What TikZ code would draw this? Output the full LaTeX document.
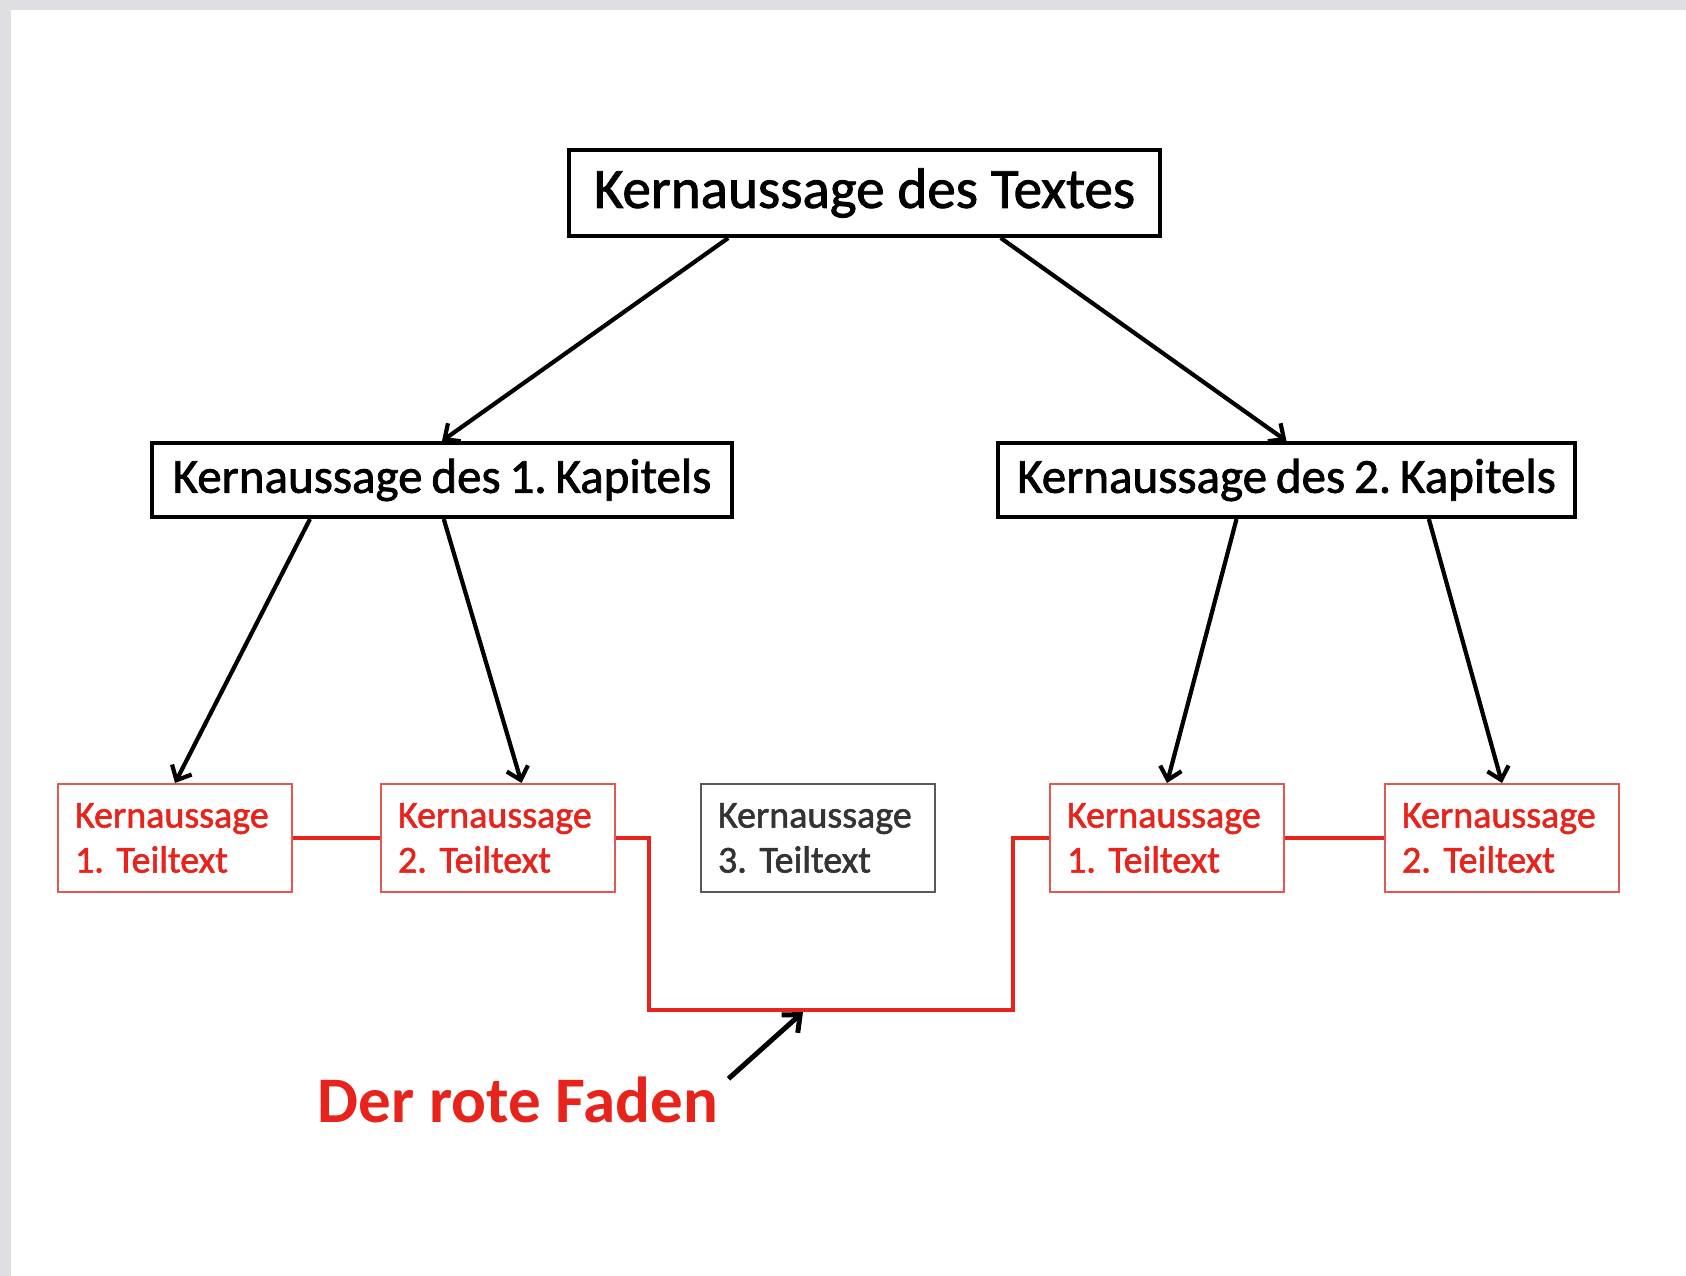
\documentclass[tikz,border=0pt]{standalone}
\usepackage{fontspec}
\setmainfont{Carlito}
\newfontfamily\medfont[FakeBold=1.5]{Carlito}
\usetikzlibrary{arrows.meta,calc}
\definecolor{framegray}{RGB}{223,223,227}
\definecolor{tred}{RGB}{232,35,28}
\definecolor{bred}{RGB}{226,88,84}
\frenchspacing
\newcommand\tightspA{\spaceskip=0.1em\relax}
\newcommand\tightspB{\spaceskip=0.18em\relax}
\begin{document}
\begin{tikzpicture}[x=1pt,y=-1pt,
  bigbox/.style={draw=black, line width=4pt, fill=white, inner sep=0pt, anchor=north west},
  teil/.style={draw=bred, line width=2pt, inner xsep=17pt, inner ysep=0pt, text width=200pt,
    minimum height=108pt, align=left, anchor=north west,
    font={\medfont\fontsize{38}{45}\selectfont\tightspA}, text=tred},
  arr/.style={-{Straight Barb[length=12pt,width=22pt,line width=4.2pt]}, line width=4.2pt},
  redline/.style={draw=tred, line width=4pt}]
\useasboundingbox (0,0) rectangle (1686,1276);
\fill[white] (0,0) rectangle (1686,1276);
\fill[framegray] (0,0) rectangle (1686,10);
\fill[framegray] (0,0) rectangle (11,1276);

\node[bigbox, minimum width=591pt, minimum height=86pt, font={\medfont\fontsize{57}{60}\selectfont}] (top) at (567,148) {Kernaussage des Textes};
\node[bigbox, minimum width=580pt, minimum height=74pt, font={\medfont\fontsize{49}{50}\selectfont\tightspB}] (k1) at (150,441) {Kernaussage des 1. Kapitels};
\node[bigbox, minimum width=577pt, minimum height=74pt, font={\medfont\fontsize{49}{50}\selectfont\tightspB}] (k2) at (996,441) {Kernaussage des 2. Kapitels};

\node[teil] (L1) at (57,783) {Kernaussage\\1. Teiltext};
\node[teil] (L2) at (380,783) {Kernaussage\\2. Teiltext};
\node[teil, draw=black!65, text=black!80] (M3) at (700,783) {Kernaussage\\3. Teiltext};
\node[teil] (R1) at (1049,783) {Kernaussage\\1. Teiltext};
\node[teil] (R2) at (1384,783) {Kernaussage\\2. Teiltext};

\draw[arr] ($(top.south west)!0.271!(top.south east)$) -- (k1.north);
\draw[arr] ($(top.south west)!0.729!(top.south east)$) -- (k2.north);
\draw[arr] ($(k1.south west)!0.274!(k1.south east)$) -- (L1.north);
\draw[arr] ($(k1.south west)!0.503!(k1.south east)$) -- ($(L2.north west)!0.60!(L2.north east)$);
\draw[arr] ($(k2.south west)!0.414!(k2.south east)$) -- (R1.north);
\draw[arr] ($(k2.south west)!0.745!(k2.south east)$) -- (R2.north);

\coordinate (b1) at (649,1010);
\coordinate (b2) at (1013,1010);
\draw[redline] (L1.east) -- (L2.west);
\draw[redline] (R1.east) -- (R2.west);
\draw[redline] (L2.east) -| (b1) -- (b2) |- (R1.west);

\node[font={\fontsize{65}{68}\selectfont\bfseries}, text=tred, inner sep=0pt] (faden) at (518,1100) {Der rote Faden};
\coordinate (ftip) at (803,1012);
\draw[-{Straight Barb[length=14pt,width=24pt,line width=5pt]}, line width=5pt] ([xshift=10pt,yshift=-2pt]faden.north east) -- (ftip);
\end{tikzpicture}
\end{document}
